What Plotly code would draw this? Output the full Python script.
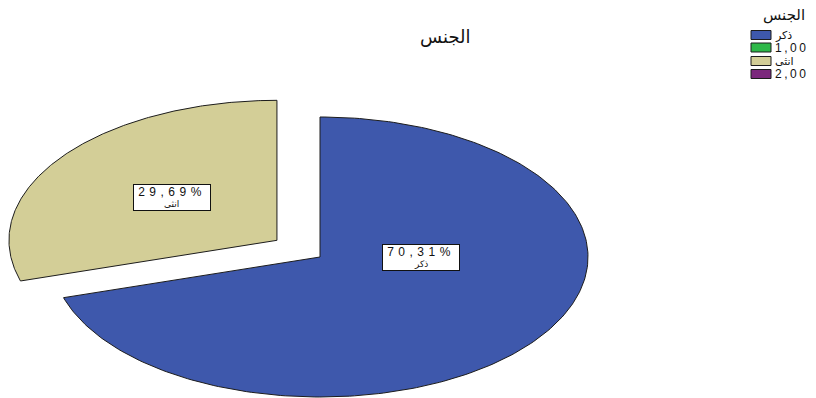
import numpy as np
import plotly.graph_objects as go

# ---- data ----
CATEGORIES = ["ذكر", "انثى"]
PERCENTS = [70.31, 29.69]
PERCENT_TEXT = ["70,31%", "29,69%"]
LEGEND_LABELS = ["ذكر", "1,00", "انثى", "2,00"]
TITLE = "الجنس"

# ---- style ----
SLICE_COLORS = ["#3E58AC", "#D3CE97"]
LEGEND_COLORS = ["#3E58AC", "#2EB848", "#D3CE97", "#7B287C"]
PULL = [0.0, 0.2]
W, H = 816, 398
CX, CY = 320, 257          # pie centre (pixel-like axis units)
RX, RY = 268, 140          # elliptical radii
LABEL_POS = [(0.377, 0.007), (-0.392, -0.306)]  # label box offsets relative to slice centre
FONT = "Liberation Sans, Arial, DejaVu Sans, sans-serif"

fig = go.Figure()
total = sum(PERCENTS)
start = 0.0
for i, (cat, v) in enumerate(zip(CATEGORIES, PERCENTS)):
    sweep = 360.0 * v / total
    mid = np.radians(start + sweep / 2)
    theta = np.radians(np.linspace(start, start + sweep, 240))
    cx = CX + PULL[i] * RX * np.sin(mid)
    cy = CY - PULL[i] * RY * np.cos(mid)
    xs = np.concatenate([[cx], cx + RX * np.sin(theta), [cx]])
    ys = np.concatenate([[cy], cy - RY * np.cos(theta), [cy]])
    fig.add_trace(go.Scatter(
        x=xs, y=ys, mode="lines", fill="toself",
        fillcolor=SLICE_COLORS[i], line=dict(color="#1c1c1c", width=1),
        name=cat, showlegend=False, hoveron="fills",
        hoverinfo="text", text=f"{cat}: {PERCENT_TEXT[i]}",
    ))
    lx = cx + LABEL_POS[i][0] * RX
    ly = cy + LABEL_POS[i][1] * RY
    # box with the percentage on its first line
    fig.add_annotation(
        x=lx, y=ly, xref="x", yref="y", showarrow=False,
        text=f'<span style="letter-spacing:4.5px">{PERCENT_TEXT[i]}</span>',
        font=dict(family=FONT, size=12, color="#111"),
        width=76, height=25, valign="top", align="center",
        bgcolor="white", bordercolor="#111", borderwidth=1, borderpad=0,
    )
    # category name on the second line
    fig.add_annotation(
        x=lx, y=ly + 6.5, xref="x", yref="y", showarrow=False,
        text=cat, font=dict(family=FONT, size=9, color="#111"),
    )
    start += sweep

# title
fig.add_annotation(x=445, y=37, xref="x", yref="y", showarrow=False,
                   text=TITLE, font=dict(family=FONT, size=18, color="#111"))

# legend
fig.add_annotation(x=784, y=15, xref="x", yref="y", showarrow=False,
                   text=TITLE, font=dict(family=FONT, size=15, color="#111"))
LEG_Y = [35, 47.5, 61, 74]
for lab, col, yy in zip(LEGEND_LABELS, LEGEND_COLORS, LEG_Y):
    fig.add_shape(type="rect", xref="x", yref="y", x0=751, x1=771,
                  y0=yy - 4.5, y1=yy + 4.5, fillcolor=col,
                  line=dict(color="#1c1c1c", width=1))
    is_num = lab[0].isdigit()
    fig.add_annotation(
        x=774, y=yy, xref="x", yref="y", showarrow=False, xanchor="left",
        text=(f'<span style="letter-spacing:2.5px">{lab}</span>' if is_num else lab),
        font=dict(family=FONT, size=12 if is_num else 11, color="#111"),
        borderpad=0,
    )

fig.update_xaxes(range=[0, W], visible=False, fixedrange=True)
fig.update_yaxes(range=[H, 0], visible=False, fixedrange=True)
fig.update_layout(
    width=W, height=H, margin=dict(l=0, r=0, t=0, b=0),
    paper_bgcolor="white", plot_bgcolor="white", showlegend=False,
)
fig.write_html("out.html")
